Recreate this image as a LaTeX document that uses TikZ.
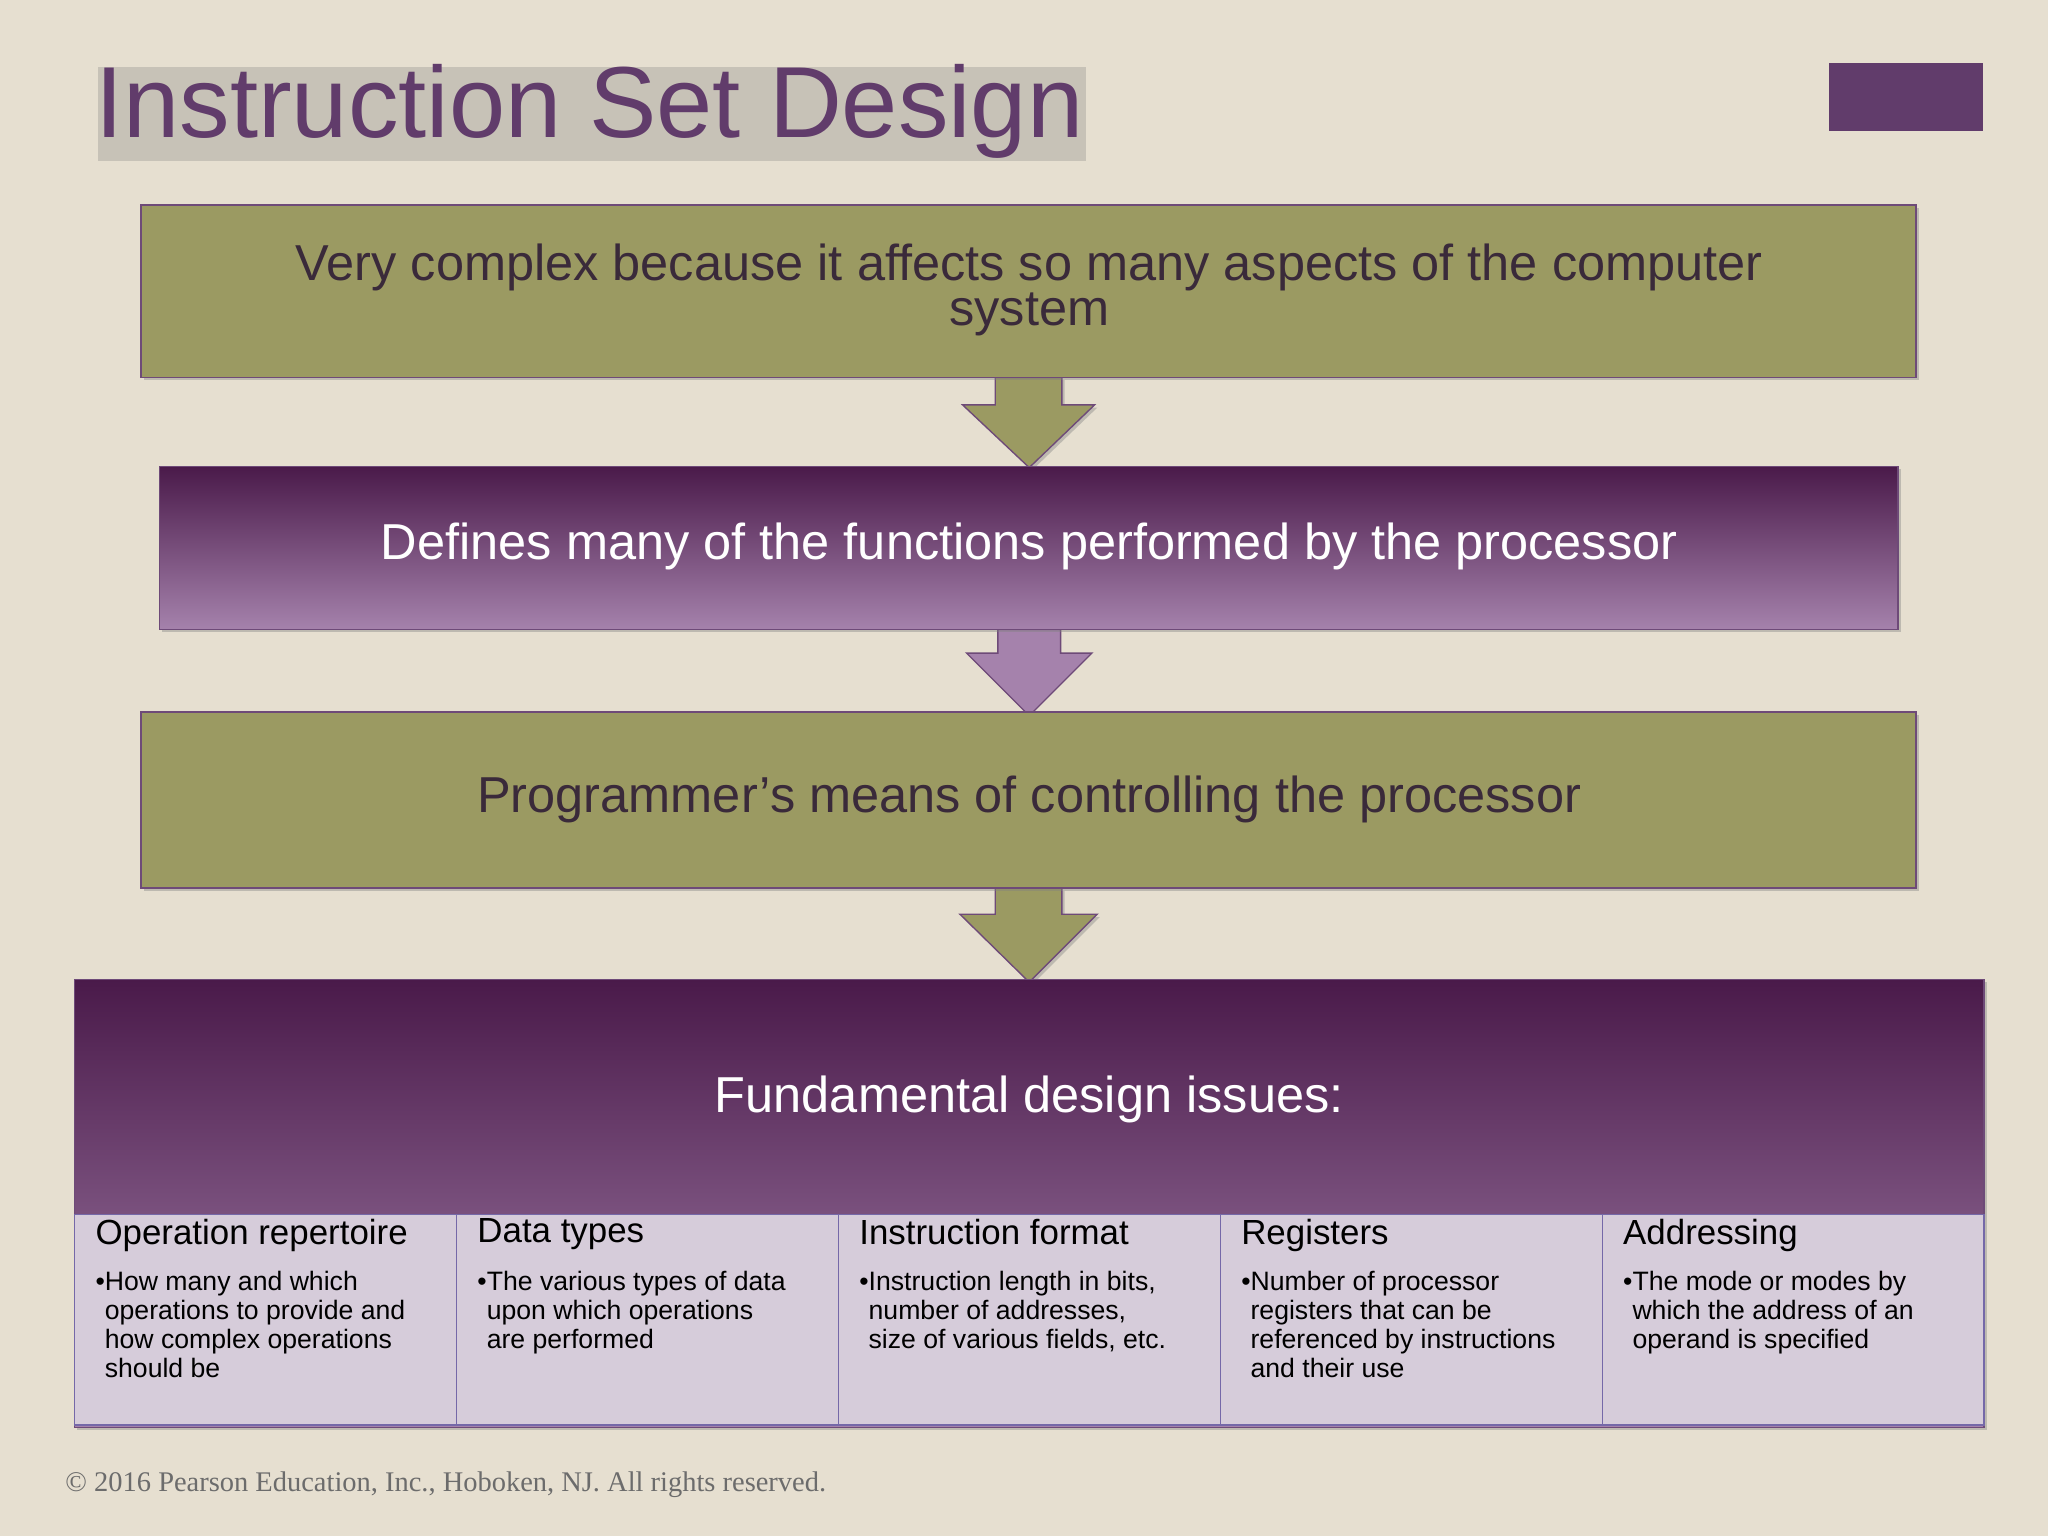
\documentclass[tikz,border=0pt]{standalone}
\usepackage{fontspec}
\setmainfont{Liberation Sans}
\newfontfamily\serifx{Liberation Serif}
\usetikzlibrary{shadows}
\definecolor{bg}{HTML}{E6DFD0}
\definecolor{olive}{HTML}{9B9A62}
\definecolor{pdark}{HTML}{4A1A4A}
\definecolor{plight}{HTML}{A582AC}
\definecolor{ttl}{HTML}{613C6B}
\definecolor{bord}{HTML}{6E4A78}
\definecolor{cell}{HTML}{D6CCDA}
\definecolor{cellb}{HTML}{7568A8}
\definecolor{dtext}{HTML}{3A2A3A}
\begin{document}
\begin{tikzpicture}[x=0.05cm,y=-0.05cm,
 olivebox/.style={draw=bord,line width=1.5pt,fill=olive,drop shadow={shadow xshift=3pt,shadow yshift=-3pt,opacity=0.4}},
 purplebox/.style={draw=bord,line width=1.5pt,top color=pdark,bottom color=plight,drop shadow={shadow xshift=3pt,shadow yshift=-3pt,opacity=0.4}},
 bigtxt/.style={font=\fontsize{55}{50}\selectfont,align=center},
 hdr/.style={anchor=north west,inner sep=0,font=\fontsize{38}{40}\selectfont,text=black},
 bul/.style={anchor=north west,inner sep=0,align=left,font=\fontsize{29}{31.5}\selectfont,text=black}]
\fill[bg] (0,0) rectangle (1568,1176);
\useasboundingbox (0,0) rectangle (1568,1176);
\node[anchor=base west,inner sep=0,text=ttl,font=\fontsize{110}{110}\selectfont,
  drop shadow={shadow xshift=3pt,shadow yshift=-3pt,opacity=0.3}] (title) at (73,105) {Instruction Set Design};
\fill[ttl] (1400,48) rectangle (1518,100);
% arrows
\path[olivebox] (762,289) -- (813,289) -- (813,310) -- (838,310) -- (788,358) -- (737,310) -- (762,310) -- cycle;
\path[draw=bord,line width=1.5pt,fill=plight] (764,482) -- (812,482) -- (812,500) -- (836,500) -- (788,548) -- (740,500) -- (764,500) -- cycle;
\path[olivebox] (762,680) -- (813,680) -- (813,700) -- (840,700) -- (788,752) -- (735,700) -- (762,700) -- cycle;
% boxes
\draw[olivebox] (108,157) rectangle (1467,289);
\node[bigtxt,text=dtext] (b1) at (788,222) {Very complex because it affects so many aspects of the computer\\system};
\draw[purplebox] (122,357) rectangle (1453,482);
\node[bigtxt,text=white] (b2) at (788,418) {Defines many of the functions performed by the processor};
\draw[olivebox] (108,545) rectangle (1467,680);
\node[bigtxt,text=dtext] (b3) at (788,612) {Programmer’s means of controlling the processor};
\draw[purplebox] (57,750) rectangle (1519,1093);
\node[bigtxt,text=white] (b4) at (788,842) {Fundamental design issues:};
\foreach \i in {0,...,4}{
  \draw[cellb,line width=1.2pt,fill=cell] ({57+292.4*\i},930) rectangle ({57+292.4*(\i+1)},1091);
}
\def\x#1{\fpeval{57+292.4*#1+16}}
\node[hdr] (h1) at (73,933) {Operation repertoire};
\node[hdr] (h2) at (365.4,933) {Data types};
\node[hdr] (h3) at (657.8,933) {Instruction format};
\node[hdr] (h4) at (950.2,933) {Registers};
\node[hdr] (h5) at (1242.6,933) {Addressing};
\node[bul] (t1) at (73,973) {•How many and which\\\phantom{•}operations to provide and\\\phantom{•}how complex operations\\\phantom{•}should be};
\node[bul] (t2) at (365.4,973) {•The various types of data\\\phantom{•}upon which operations\\\phantom{•}are performed};
\node[bul] (t3) at (657.8,973) {•Instruction length in bits,\\\phantom{•}number of addresses,\\\phantom{•}size of various fields, etc.};
\node[bul] (t4) at (950.2,973) {•Number of processor\\\phantom{•}registers that can be\\\phantom{•}referenced by instructions\\\phantom{•}and their use};
\node[bul] (t5) at (1242.6,973) {•The mode or modes by\\\phantom{•}which the address of an\\\phantom{•}operand is specified};
\node[anchor=base west,inner sep=0,text=gray!85!black,font=\serifx\fontsize{31}{31}\selectfont] (cp) at (50,1142) {© 2016 Pearson Education, Inc., Hoboken, NJ. All rights reserved.};
\end{tikzpicture}
\end{document}
